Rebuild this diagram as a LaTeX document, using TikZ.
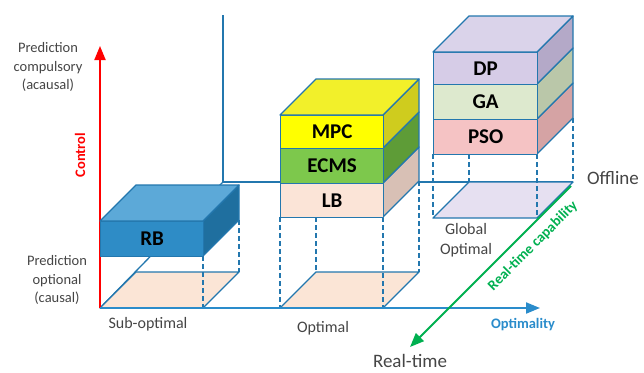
\documentclass[tikz,border=0pt]{standalone}
\usepackage{fontspec}
\setmainfont{Carlito}
\usetikzlibrary{arrows.meta}

\definecolor{edgeblue}{HTML}{2377AE}
\definecolor{axisblue}{HTML}{2A8CCB}
\definecolor{rbfront}{HTML}{2E8CC6}
\definecolor{rbtop}{HTML}{5CA9D8}
\definecolor{rbside}{HTML}{1F6F9F}
\definecolor{mpcfront}{HTML}{FFFF00}
\definecolor{mpctop}{HTML}{F2F02A}
\definecolor{mpcside}{HTML}{CFCC1E}
\definecolor{ecmsfront}{HTML}{7DC84C}
\definecolor{ecmsside}{HTML}{5E9C37}
\definecolor{lbfront}{HTML}{FBE4D7}
\definecolor{lbside}{HTML}{D8C0B5}
\definecolor{dpfront}{HTML}{D6CCE7}
\definecolor{dptop}{HTML}{DAD3EA}
\definecolor{dpside}{HTML}{B4A9C8}
\definecolor{gafront}{HTML}{DDE9CE}
\definecolor{gaside}{HTML}{BAC7A9}
\definecolor{psofront}{HTML}{F5C3C4}
\definecolor{psoside}{HTML}{D5A3A4}
\definecolor{floorpeach}{HTML}{FBE5D6}
\definecolor{floorlilac}{HTML}{E6E0F1}
\definecolor{labelgrey}{HTML}{454545}
\definecolor{ctrlred}{HTML}{FF0000}
\definecolor{rtgreen}{HTML}{00B050}

% front face (a node) and side face of one layer of a stack
\newcommand{\layerbox}[8]{% name, x, y top, y bottom, width, front, side, text
  \draw[edge,fill=#7] (#2+#5,#3) -- ++(36,-36) -- ++(0,#4-#3) -- (#2+#5,#4) -- cycle;
  \node[slab,fill=#6,minimum width=#5pt,minimum height={(#4-#3)*1pt}] (#1) at (#2,#3) {#8};
}
% top face of a stack
\newcommand{\layertop}[4]{% x, y, width, fill
  \draw[edge,fill=#4] (#1,#2) -- ++(#3,0) -- ++(36,-36) -- ++(-#3,0) -- cycle;
}

\begin{document}
\begin{tikzpicture}[x=1pt,y=-1pt,
    edge/.style={draw=edgeblue,line width=1.3pt,line join=round},
    guide/.style={draw=edgeblue,line width=1.3pt,dash pattern=on 5pt off 3pt},
    slab/.style={edge,inner sep=0pt,anchor=north west,text=black,
      font=\fontsize{21}{21}\selectfont\bfseries},
    lbl/.style={text=labelgrey,align=center,font=\fontsize{14.5}{18.5}\selectfont},
    axislbl/.style={font=\fontsize{14.5}{16}\selectfont\bfseries}]
  \useasboundingbox (0,0) rectangle (644,372);

  % back wall and depth line
  \coordinate (origin) at (100,308);
  \coordinate (backcorner) at (223,182);
  \draw[edge] (223,15) -- (backcorner) -- (573,182);
  \draw[edge] (origin) -- (backcorner);

  % floors
  \draw[edge,fill=floorpeach] (origin) -- (203,308) -- (239,272) -- (136,272) -- cycle;
  \draw[edge,fill=floorpeach] (280,308) -- (383,308) -- (419,272) -- (316,272) -- cycle;
  \draw[edge,fill=floorlilac] (433,218) -- (537,218) -- (573,182) -- (469,182) -- cycle;

  % dashed drop lines
  \draw[guide] (203,256) -- (203,308);
  \draw[guide] (239,220) -- (239,272);
  \draw[guide] (280,217) -- (280,308);
  \draw[guide] (383,217) -- (383,308);
  \draw[guide] (316,217) -- (316,272);
  \draw[guide] (419,181) -- (419,272);
  \draw[guide] (433,154) -- (433,218);
  \draw[guide] (537,154) -- (537,218);
  \draw[guide] (469,154) -- (469,182);
  \draw[guide] (573,118) -- (573,182);

  % axes
  \draw[ctrlred,line width=2pt,-{Triangle[length=14pt,width=11pt]}] (origin) -- (100,46);
  \draw[axisblue,line width=2pt,-{Triangle[length=14pt,width=11pt]}] (origin) -- (540,308);
  \draw[rtgreen,line width=2pt,-{Triangle[length=14pt,width=11pt]}] (571,186) -- (410,347);

  % RB
  \layerbox{rb}{100}{221}{256}{103}{rbfront}{rbside}{RB}
  \layertop{100}{221}{103}{rbtop}

  % LB, ECMS, MPC
  \layerbox{lb}{280}{183}{217}{103}{lbfront}{lbside}{LB}
  \layerbox{ecms}{280}{148}{183}{103}{ecmsfront}{ecmsside}{ECMS}
  \layerbox{mpc}{280}{115}{148}{103}{mpcfront}{mpcside}{MPC}
  \layertop{280}{115}{103}{mpctop}

  % PSO, GA, DP
  \layerbox{pso}{433}{119}{154}{104}{psofront}{psoside}{PSO}
  \layerbox{ga}{433}{84}{119}{104}{gafront}{gaside}{GA}
  \layerbox{dp}{433}{52}{84}{104}{dpfront}{dpside}{DP}
  \layertop{433}{52}{104}{dptop}

  % labels
  \node[lbl] (compulsory) at (48,67) {Prediction\\compulsory\\(acausal)};
  \node[lbl] (optional) at (57,280) {Prediction\\optional\\(causal)};
  \node[axislbl,text=ctrlred,rotate=90] (control) at (80,155) {Control};
  \node[lbl,font=\fontsize{16}{18}\selectfont] (suboptimal) at (148,324) {Sub-optimal};
  \node[lbl,font=\fontsize{16}{18}\selectfont] (optimal) at (323,328) {Optimal};
  \node[lbl,font=\fontsize{16}{20}\selectfont] (global) at (466,240) {Global\\Optimal};
  \node[axislbl,text=axisblue] (optimality) at (523,325) {Optimality};
  \node[axislbl,text=rtgreen,rotate=45] (rtcap) at (533,246) {Real-time capability};
  \node[text=labelgrey,font=\fontsize{19}{20}\selectfont] (offline) at (613,178) {Offline};
  \node[text=labelgrey,font=\fontsize{19}{20}\selectfont] (realtime) at (410,361) {Real-time};
\end{tikzpicture}
\end{document}
